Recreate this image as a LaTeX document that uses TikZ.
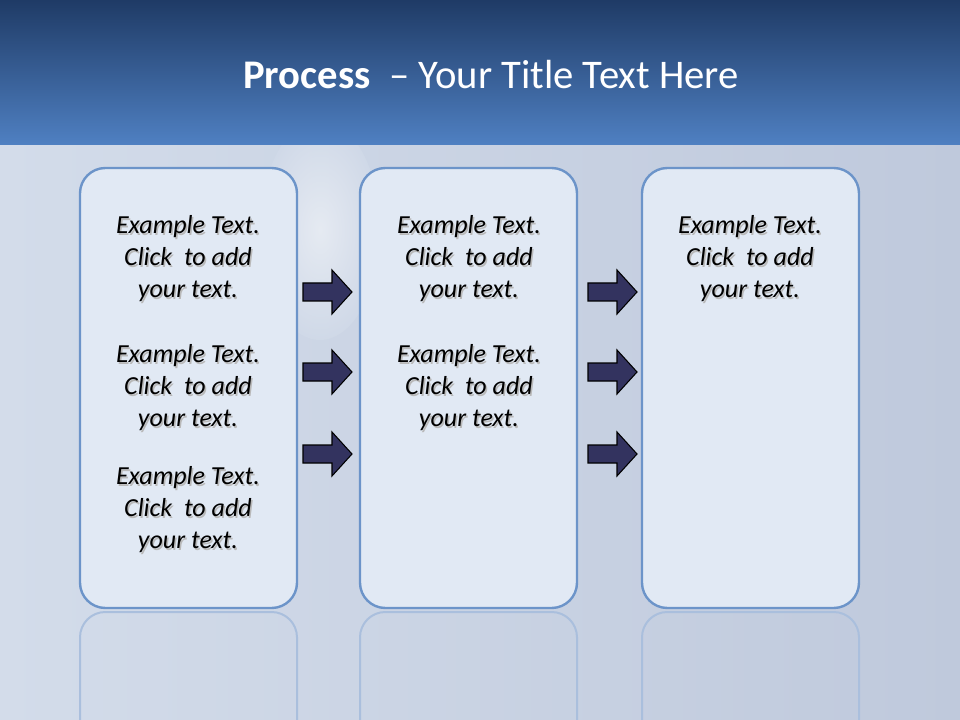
\documentclass[tikz,border=0pt]{standalone}
\usepackage{fontspec}
\setmainfont{Carlito}
\definecolor{bgl}{HTML}{D3DCEA}
\definecolor{bgc}{HTML}{BFC9DC}
\definecolor{boxf}{HTML}{E1E9F4}
\definecolor{boxd}{HTML}{6C94C9}
\definecolor{arrf}{HTML}{33335F}
\definecolor{ttop}{HTML}{1F3B66}
\definecolor{tbot}{HTML}{4F80C2}
\tikzset{
 panel/.style={draw=boxd,line width=1.8pt,fill=boxf,rounded corners=19pt},
 refl/.style={draw=boxd!40!bgl,line width=1.5pt,rounded corners=19pt},
 txt/.style={font=\itshape\fontsize{19.5}{24}\selectfont,align=center,text=black},
 shd/.style={font=\itshape\fontsize{19.5}{24}\selectfont,align=center,text=gray!55},
 blk/.style={fill=arrf,draw=black,line width=0.8pt,line join=miter}
}
\newcommand{\blockarrow}[3]{% name, x, y
 \draw[blk] (#2,#3-9) -- (#2+29,#3-9) -- (#2+29,#3-22) -- (#2+49,#3) -- (#2+29,#3+22) -- (#2+29,#3+9) -- (#2,#3+9) -- cycle;
 \coordinate (#1) at (#2+25,#3);}
\newcommand{\extext}[3]{% name,x,y
 \node[shd] at (#2+1.5,#3+1.5) {Example Text.\\Click\ \ to add\\your text.};
 \node[txt] (#1) at (#2,#3) {Example Text.\\Click\ \ to add\\your text.};}
\begin{document}
\begin{tikzpicture}[x=0.75pt,y=-0.75pt]
\useasboundingbox (0,0) rectangle (960,720);
\shade[left color=bgl,right color=bgc] (0,145) rectangle (960,720);
\shade[inner color=white,outer color=bgl,opacity=0.5] (320,230) ellipse (60 and 110);
\shade[top color=ttop,bottom color=tbot] (0,0) rectangle (960,145);
\node[text=white,font=\fontsize{30.5}{34}\selectfont] (title) at (491,75) {\textbf{Process}\ \ – Your Title Text Here};
% reflections
\foreach \x in {80,360,642}{
 \begin{scope}
 \clip (0,611) rectangle (960,720);
 \draw[refl] (\x,612) rectangle (\x+217,1000);
 \end{scope}}
\draw[panel] (80,168) rectangle (297,608);
\draw[panel] (360,168) rectangle (577,608);
\draw[panel] (642,168) rectangle (859,608);
\extext{a1}{188}{259}
\extext{a2}{188}{388}
\extext{a3}{188}{510}
\extext{b1}{469}{259}
\extext{b2}{469}{388}
\extext{c1}{750}{259}
\blockarrow{r1}{303}{292}
\blockarrow{r2}{303}{372}
\blockarrow{r3}{303}{454}
\blockarrow{s1}{588}{292}
\blockarrow{s2}{588}{372}
\blockarrow{s3}{588}{454}
\end{tikzpicture}
\end{document}
